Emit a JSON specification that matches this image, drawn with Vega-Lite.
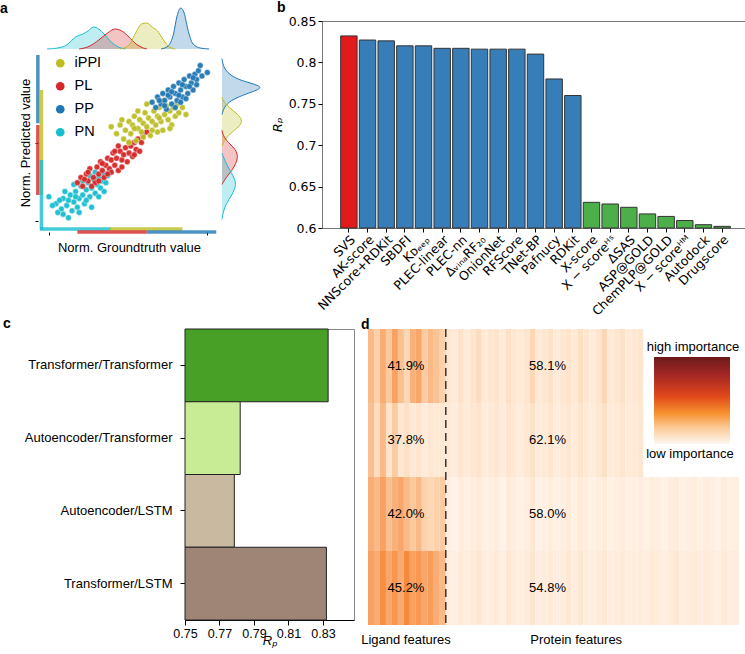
{
"$schema":"https://vega.github.io/schema/vega-lite/v6.json",
"padding":{"left":0,"top":0,"right":0,"bottom":0},
"columns":1,"align":"none",
"spacing":-3,
"resolve":{"scale":{"color":"independent"},"legend":{"color":"independent"}},
"config":{"view":{"stroke":null},"font":"Liberation Sans",
 "title":{"fontSize":14,"fontWeight":"bold","anchor":"start","frame":"group","font":"Liberation Sans","color":"#000"},
 "axis":{"titleFont":"Liberation Sans","labelFont":"Liberation Sans","titleFontWeight":"normal","labelColor":"#000","titleColor":"#000","tickColor":"#000","domainColor":"#000","grid":false}},
"concat":[
{"hconcat":[
 {"width":178,"height":175,
  "title":{"text":"a","dx":-40,"offset":-10},
  "resolve":{"scale":{"x":"independent","y":"independent"}},
  "layer":[
     {"data":{"values":[
{"c":"PN","gt":0.05,"pr":0.19},{"c":"PN","gt":0.16,"pr":0.07},{"c":"PN","gt":0.09,"pr":0.15},{"c":"PN","gt":0.12,"pr":0.12},{"c":"PN","gt":0.13,"pr":0.18},{"c":"PN","gt":0.15,"pr":0.14},{"c":"PN","gt":0.17,"pr":0.2},{"c":"PN","gt":0.18,"pr":0.11},{"c":"PN","gt":0.19,"pr":0.16},{"c":"PN","gt":0.2,"pr":0.22},{"c":"PN","gt":0.21,"pr":0.13},{"c":"PN","gt":0.22,"pr":0.18},{"c":"PN","gt":0.23,"pr":0.25},{"c":"PN","gt":0.24,"pr":0.2},{"c":"PN","gt":0.25,"pr":0.15},{"c":"PN","gt":0.26,"pr":0.23},{"c":"PN","gt":0.27,"pr":0.27},{"c":"PN","gt":0.28,"pr":0.19},{"c":"PN","gt":0.29,"pr":0.24},{"c":"PN","gt":0.3,"pr":0.29},{"c":"PN","gt":0.31,"pr":0.21},{"c":"PN","gt":0.32,"pr":0.26},{"c":"PN","gt":0.33,"pr":0.3},{"c":"PN","gt":0.34,"pr":0.24},{"c":"PN","gt":0.35,"pr":0.28},{"c":"PN","gt":0.36,"pr":0.32},{"c":"PN","gt":0.37,"pr":0.27},{"c":"PN","gt":0.38,"pr":0.31},{"c":"PN","gt":0.4,"pr":0.33},{"c":"PN","gt":0.14,"pr":0.22},{"c":"PN","gt":0.19,"pr":0.26},{"c":"PN","gt":0.11,"pr":0.17},{"c":"PN","gt":0.1,"pr":0.1},{"c":"PN","gt":0.22,"pr":0.1},{"c":"PN","gt":0.26,"pr":0.17},{"c":"PN","gt":0.29,"pr":0.13},{"c":"PN","gt":0.33,"pr":0.19},{"c":"PN","gt":0.2,"pr":0.19},{"c":"PN","gt":0.16,"pr":0.17},{"c":"PN","gt":0.24,"pr":0.28},{"c":"PN","gt":0.07,"pr":0.14},{"c":"PN","gt":0.13,"pr":0.09},{"c":"PN","gt":0.28,"pr":0.31},{"c":"PN","gt":0.36,"pr":0.22},{"c":"PN","gt":0.31,"pr":0.33},
{"c":"PL","gt":0.21,"pr":0.27},{"c":"PL","gt":0.23,"pr":0.3},{"c":"PL","gt":0.24,"pr":0.25},{"c":"PL","gt":0.26,"pr":0.32},{"c":"PL","gt":0.27,"pr":0.28},{"c":"PL","gt":0.28,"pr":0.35},{"c":"PL","gt":0.3,"pr":0.3},{"c":"PL","gt":0.31,"pr":0.27},{"c":"PL","gt":0.32,"pr":0.36},{"c":"PL","gt":0.33,"pr":0.32},{"c":"PL","gt":0.34,"pr":0.39},{"c":"PL","gt":0.35,"pr":0.34},{"c":"PL","gt":0.36,"pr":0.3},{"c":"PL","gt":0.37,"pr":0.37},{"c":"PL","gt":0.38,"pr":0.41},{"c":"PL","gt":0.39,"pr":0.35},{"c":"PL","gt":0.4,"pr":0.4},{"c":"PL","gt":0.41,"pr":0.44},{"c":"PL","gt":0.42,"pr":0.37},{"c":"PL","gt":0.43,"pr":0.41},{"c":"PL","gt":0.44,"pr":0.34},{"c":"PL","gt":0.45,"pr":0.45},{"c":"PL","gt":0.46,"pr":0.4},{"c":"PL","gt":0.47,"pr":0.43},{"c":"PL","gt":0.48,"pr":0.47},{"c":"PL","gt":0.49,"pr":0.39},{"c":"PL","gt":0.5,"pr":0.44},{"c":"PL","gt":0.51,"pr":0.48},{"c":"PL","gt":0.52,"pr":0.42},{"c":"PL","gt":0.53,"pr":0.5},{"c":"PL","gt":0.54,"pr":0.46},{"c":"PL","gt":0.55,"pr":0.52},{"c":"PL","gt":0.56,"pr":0.45},{"c":"PL","gt":0.57,"pr":0.5},{"c":"PL","gt":0.58,"pr":0.54},{"c":"PL","gt":0.6,"pr":0.56},{"c":"PL","gt":0.29,"pr":0.25},{"c":"PL","gt":0.35,"pr":0.38},{"c":"PL","gt":0.4,"pr":0.33},{"c":"PL","gt":0.44,"pr":0.48},{"c":"PL","gt":0.38,"pr":0.32},{"c":"PL","gt":0.5,"pr":0.5},{"c":"PL","gt":0.46,"pr":0.36},{"c":"PL","gt":0.33,"pr":0.28},{"c":"PL","gt":0.25,"pr":0.29},{"c":"PL","gt":0.42,"pr":0.45},{"c":"PL","gt":0.53,"pr":0.43},{"c":"PL","gt":0.27,"pr":0.33},
{"c":"iPPI","gt":0.4,"pr":0.59},{"c":"iPPI","gt":0.43,"pr":0.55},{"c":"iPPI","gt":0.45,"pr":0.6},{"c":"iPPI","gt":0.47,"pr":0.52},{"c":"iPPI","gt":0.48,"pr":0.57},{"c":"iPPI","gt":0.5,"pr":0.62},{"c":"iPPI","gt":0.51,"pr":0.55},{"c":"iPPI","gt":0.52,"pr":0.6},{"c":"iPPI","gt":0.53,"pr":0.65},{"c":"iPPI","gt":0.54,"pr":0.51},{"c":"iPPI","gt":0.55,"pr":0.58},{"c":"iPPI","gt":0.56,"pr":0.63},{"c":"iPPI","gt":0.57,"pr":0.56},{"c":"iPPI","gt":0.58,"pr":0.61},{"c":"iPPI","gt":0.59,"pr":0.67},{"c":"iPPI","gt":0.6,"pr":0.59},{"c":"iPPI","gt":0.61,"pr":0.64},{"c":"iPPI","gt":0.62,"pr":0.54},{"c":"iPPI","gt":0.63,"pr":0.62},{"c":"iPPI","gt":0.64,"pr":0.68},{"c":"iPPI","gt":0.65,"pr":0.6},{"c":"iPPI","gt":0.66,"pr":0.65},{"c":"iPPI","gt":0.67,"pr":0.7},{"c":"iPPI","gt":0.68,"pr":0.62},{"c":"iPPI","gt":0.69,"pr":0.57},{"c":"iPPI","gt":0.7,"pr":0.66},{"c":"iPPI","gt":0.71,"pr":0.71},{"c":"iPPI","gt":0.72,"pr":0.63},{"c":"iPPI","gt":0.73,"pr":0.68},{"c":"iPPI","gt":0.74,"pr":0.6},{"c":"iPPI","gt":0.75,"pr":0.7},{"c":"iPPI","gt":0.76,"pr":0.65},{"c":"iPPI","gt":0.77,"pr":0.72},{"c":"iPPI","gt":0.78,"pr":0.67},{"c":"iPPI","gt":0.8,"pr":0.7},{"c":"iPPI","gt":0.82,"pr":0.66},{"c":"iPPI","gt":0.5,"pr":0.5},{"c":"iPPI","gt":0.55,"pr":0.68},{"c":"iPPI","gt":0.6,"pr":0.72},{"c":"iPPI","gt":0.66,"pr":0.56},{"c":"iPPI","gt":0.63,"pr":0.57},{"c":"iPPI","gt":0.58,"pr":0.53},{"c":"iPPI","gt":0.7,"pr":0.74},{"c":"iPPI","gt":0.46,"pr":0.63},{"c":"iPPI","gt":0.53,"pr":0.58},{"c":"iPPI","gt":0.67,"pr":0.64},{"c":"iPPI","gt":0.73,"pr":0.58},
{"c":"PP","gt":0.63,"pr":0.73},{"c":"PP","gt":0.65,"pr":0.7},{"c":"PP","gt":0.66,"pr":0.76},{"c":"PP","gt":0.68,"pr":0.72},{"c":"PP","gt":0.69,"pr":0.78},{"c":"PP","gt":0.7,"pr":0.74},{"c":"PP","gt":0.71,"pr":0.69},{"c":"PP","gt":0.72,"pr":0.8},{"c":"PP","gt":0.73,"pr":0.76},{"c":"PP","gt":0.74,"pr":0.72},{"c":"PP","gt":0.75,"pr":0.82},{"c":"PP","gt":0.76,"pr":0.78},{"c":"PP","gt":0.77,"pr":0.74},{"c":"PP","gt":0.78,"pr":0.84},{"c":"PP","gt":0.79,"pr":0.8},{"c":"PP","gt":0.8,"pr":0.76},{"c":"PP","gt":0.81,"pr":0.86},{"c":"PP","gt":0.82,"pr":0.82},{"c":"PP","gt":0.83,"pr":0.78},{"c":"PP","gt":0.84,"pr":0.88},{"c":"PP","gt":0.85,"pr":0.84},{"c":"PP","gt":0.86,"pr":0.8},{"c":"PP","gt":0.87,"pr":0.89},{"c":"PP","gt":0.88,"pr":0.86},{"c":"PP","gt":0.89,"pr":0.91},{"c":"PP","gt":0.9,"pr":0.94},{"c":"PP","gt":0.91,"pr":0.88},{"c":"PP","gt":0.94,"pr":0.9},{"c":"PP","gt":0.76,"pr":0.7},{"c":"PP","gt":0.8,"pr":0.83},{"c":"PP","gt":0.72,"pr":0.77},{"c":"PP","gt":0.67,"pr":0.74},{"c":"PP","gt":0.78,"pr":0.77},{"c":"PP","gt":0.84,"pr":0.82},{"c":"PP","gt":0.86,"pr":0.87},{"c":"PP","gt":0.82,"pr":0.75},{"c":"PP","gt":0.74,"pr":0.79},{"c":"PP","gt":0.88,"pr":0.83},{"c":"PP","gt":0.7,"pr":0.71},{"c":"PP","gt":0.79,"pr":0.73}
     ]},
      "mark":{"type":"point","filled":true,"size":34,"opacity":0.95,"stroke":"#ffffff","strokeWidth":0.4},
      "encoding":{
       "x":{"field":"gt","type":"quantitative","scale":{"domain":[0,1],"nice":false,"zero":false},
            "axis":{"orient":"bottom","title":"Norm. Groundtruth value","labels":false,"domain":false,"values":[0.05,0.94],"tickSize":3,"titleFontSize":13,"titlePadding":6,"offset":2}},
       "y":{"field":"pr","type":"quantitative","scale":{"domain":[0,1],"nice":false,"zero":false},
            "axis":{"orient":"left","title":"Norm. Predicted value","labels":false,"domain":false,"values":[0.05,0.5],"tickSize":3,"titleFontSize":13,"titlePadding":2,"offset":2}},
       "color":{"field":"c","type":"nominal","scale":{"domain":["iPPI","PL","PP","PN"],"range":["#bcbd22","#d62728","#1f77b4","#17becf"]},
            "legend":{"title":null,"orient":"none","legendX":13,"legendY":1,"padding":0,"symbolType":"circle","symbolSize":75,"symbolStrokeWidth":0,"symbolOpacity":1,"labelFontSize":14.5,"labelFont":"Liberation Sans","labelOffset":7,"rowPadding":8}}}},
     {"data":{"values":[{"c":"PP","lo":0.61,"hi":1.0},{"c":"PL","lo":0.2,"hi":0.6}]},
      "mark":{"type":"rule","strokeWidth":3.5,"opacity":0.8},
      "encoding":{"x":{"datum":-0.012,"type":"quantitative","scale":{"domain":[0,1],"nice":false,"zero":false},"axis":null},"y":{"field":"lo","type":"quantitative","scale":{"domain":[0,1],"nice":false,"zero":false},"axis":null},"y2":{"field":"hi"},"color":{"field":"c","type":"nominal"}}},
     {"data":{"values":[{"c":"iPPI","lo":0.2,"hi":0.8},{"c":"PN","lo":0.0,"hi":0.4}]},
      "mark":{"type":"rule","strokeWidth":3.5,"opacity":0.8},
      "encoding":{"x":{"datum":0.008,"type":"quantitative","scale":{"domain":[0,1],"nice":false,"zero":false},"axis":null},"y":{"field":"lo","type":"quantitative","scale":{"domain":[0,1],"nice":false,"zero":false},"axis":null},"y2":{"field":"hi"},"color":{"field":"c","type":"nominal"}}},
     {"data":{"values":[{"c":"PN","lo":0.0,"hi":0.4},{"c":"iPPI","lo":0.39,"hi":0.8}]},
      "mark":{"type":"rule","strokeWidth":3.5,"opacity":0.8},
      "encoding":{"y":{"datum":0.006,"type":"quantitative","scale":{"domain":[0,1],"nice":false,"zero":false},"axis":null},"x":{"field":"lo","type":"quantitative","scale":{"domain":[0,1],"nice":false,"zero":false},"axis":null},"x2":{"field":"hi"},"color":{"field":"c","type":"nominal"}}},
     {"data":{"values":[{"c":"PL","lo":0.21,"hi":0.6},{"c":"PP","lo":0.6,"hi":0.99}]},
      "mark":{"type":"rule","strokeWidth":3.5,"opacity":0.8},
      "encoding":{"y":{"datum":-0.012,"type":"quantitative","scale":{"domain":[0,1],"nice":false,"zero":false},"axis":null},"x":{"field":"lo","type":"quantitative","scale":{"domain":[0,1],"nice":false,"zero":false},"axis":null},"x2":{"field":"hi"},"color":{"field":"c","type":"nominal"}}},
   {"data":{"values":[
{"c":"PN","x":0.04,"h":0},{"c":"PN","x":0.1,"h":1},{"c":"PN","x":0.15,"h":4},{"c":"PN","x":0.2,"h":12},{"c":"PN","x":0.24,"h":15},{"c":"PN","x":0.27,"h":18},{"c":"PN","x":0.3,"h":22},{"c":"PN","x":0.33,"h":20},{"c":"PN","x":0.36,"h":15},{"c":"PN","x":0.4,"h":7},{"c":"PN","x":0.44,"h":2},{"c":"PN","x":0.48,"h":0},
{"c":"PL","x":0.22,"h":0},{"c":"PL","x":0.28,"h":3},{"c":"PL","x":0.33,"h":9},{"c":"PL","x":0.38,"h":16},{"c":"PL","x":0.42,"h":20},{"c":"PL","x":0.46,"h":18},{"c":"PL","x":0.5,"h":12},{"c":"PL","x":0.54,"h":5},{"c":"PL","x":0.58,"h":1},{"c":"PL","x":0.6,"h":0},
{"c":"iPPI","x":0.45,"h":0},{"c":"iPPI","x":0.5,"h":4},{"c":"iPPI","x":0.54,"h":17},{"c":"iPPI","x":0.57,"h":25},{"c":"iPPI","x":0.6,"h":26},{"c":"iPPI","x":0.63,"h":22},{"c":"iPPI","x":0.66,"h":18},{"c":"iPPI","x":0.69,"h":10},{"c":"iPPI","x":0.72,"h":3},{"c":"iPPI","x":0.76,"h":0},
{"c":"PP","x":0.68,"h":0},{"c":"PP","x":0.72,"h":3},{"c":"PP","x":0.75,"h":15},{"c":"PP","x":0.77,"h":33},{"c":"PP","x":0.79,"h":41},{"c":"PP","x":0.81,"h":36},{"c":"PP","x":0.83,"h":20},{"c":"PP","x":0.86,"h":5},{"c":"PP","x":0.9,"h":1},{"c":"PP","x":0.95,"h":0}
   ]},
    "mark":{"type":"area","fillOpacity":0.28,"line":{"strokeWidth":1},"interpolate":"monotone"},
    "encoding":{"x":{"field":"x","type":"quantitative","scale":{"domain":[0,1],"nice":false,"zero":false},"axis":null},
      "y":{"field":"h","type":"quantitative","stack":null,"scale":{"domain":[0,41],"range":[-6,-47],"nice":false},"axis":null},
      "color":{"field":"c","type":"nominal"}}},
   {"data":{"name":"rd"},
    "mark":{"type":"area","orient":"horizontal","fillOpacity":0.28,"interpolate":"basis"},
    "encoding":{"y":{"field":"y","type":"quantitative","scale":{"domain":[0,1],"nice":false,"zero":false},"axis":null},
      "x":{"field":"h","type":"quantitative","stack":null,"scale":{"domain":[0,41],"range":[182,223],"nice":false},"axis":null},
      "color":{"field":"c","type":"nominal"}}},
   {"data":{"name":"rd"},
    "mark":{"type":"line","strokeWidth":1,"interpolate":"basis"},
    "encoding":{"y":{"field":"y","type":"quantitative","scale":{"domain":[0,1],"nice":false,"zero":false},"axis":null},
      "x":{"field":"h","type":"quantitative","scale":{"domain":[0,41],"range":[182,223],"nice":false},"axis":null},
      "order":{"field":"y","type":"quantitative"},
      "color":{"field":"c","type":"nominal"}}}
  ]},
 {"concat":[
  {"width":1,"height":1,"data":{"values":[]},"mark":"point"},
  {"width":427,"height":207,
  "title":{"text":"b","dx":-45,"offset":0},
  "view":{"stroke":"#777"},
  "data":{"values":[
{"m":"SVS","rp":0.832,"g":"SVS"},{"m":"AK-score","rp":0.827,"g":"ML"},{"m":"NNScore+RDKit","rp":0.826,"g":"ML"},{"m":"SBDFI","rp":0.82,"g":"ML"},{"m":"Kᴅₑₑₚ","rp":0.82,"g":"ML"},{"m":"PLEC-linear","rp":0.817,"g":"ML"},{"m":"PLEC-nn","rp":0.817,"g":"ML"},{"m":"ΔᵥᵢₙₐRF₂₀","rp":0.816,"g":"ML"},{"m":"OnionNet","rp":0.816,"g":"ML"},{"m":"RFScore","rp":0.816,"g":"ML"},{"m":"TNet-BP","rp":0.81,"g":"ML"},{"m":"Pafnucy","rp":0.78,"g":"ML"},{"m":"RDKit","rp":0.76,"g":"ML"},{"m":"X-score","rp":0.631,"g":"Classic"},{"m":"X − scoreᴴˢ","rp":0.629,"g":"Classic"},{"m":"ΔSAS","rp":0.625,"g":"Classic"},{"m":"ASP@GOLD","rp":0.617,"g":"Classic"},{"m":"ChemPLP@GOLD","rp":0.614,"g":"Classic"},{"m":"X − scoreᴴᴹ","rp":0.609,"g":"Classic"},{"m":"Autodock","rp":0.604,"g":"Classic"},{"m":"Drugscore","rp":0.602,"g":"Classic"}
  ]},
  "mark":{"type":"bar","stroke":"#333","strokeWidth":1},
  "encoding":{
   "x":{"field":"m","type":"nominal","sort":null,"scale":{"paddingInner":0.12,"paddingOuter":1.11},
        "axis":{"title":null,"labelAngle":-45,"labelAlign":"right","labelBaseline":"top","labelFont":"DejaVu Sans","labelFontSize":12.5,"tickSize":4,"labelPadding":1,"domain":false,"labelOverlap":false}},
   "y":{"field":"rp","type":"quantitative","scale":{"domain":[0.6,0.85],"nice":false,"zero":false},
        "axis":{"values":[0.6,0.65,0.7,0.75,0.8,0.85],"format":"~g","title":"Rₚ","titleFontStyle":"italic","titleFont":"DejaVu Sans","titleFontSize":13,"labelFont":"DejaVu Sans","labelFontSize":12.5,"domain":false,"tickSize":4,"titlePadding":4}},
   "y2":{"datum":0.6},
   "color":{"field":"g","type":"nominal","scale":{"domain":["SVS","ML","Classic"],"range":["#e31a1c","#377eb8","#4daf4a"]},"legend":null}}}
 ],"columns":1,"align":"none","spacing":-56}
],"spacing":8,"resolve":{"scale":{"color":"independent"},"legend":{"color":"independent"}}},
{"hconcat":[
 {"width":1,"height":1,"data":{"values":[]},"mark":"point"},
 {"hconcat":[
 {"width":169,"height":291,
  "title":{"text":"c","dx":-182,"offset":-2},
  "view":{"stroke":"#888"},
  "data":{"values":[
   {"a":"Transformer/Transformer","rp":0.833},{"a":"Autoencoder/Transformer","rp":0.782},{"a":"Autoencoder/LSTM","rp":0.7786},{"a":"Transformer/LSTM","rp":0.832}]},
  "mark":{"type":"bar","stroke":"#222","strokeWidth":1},
  "encoding":{
   "y":{"field":"a","type":"nominal","sort":null,"scale":{"paddingInner":0,"paddingOuter":0},
        "axis":{"title":null,"labelFontSize":13,"tickSize":5,"labelPadding":8}},
   "x":{"field":"rp","type":"quantitative","scale":{"domain":[0.75,0.848],"nice":false,"zero":false},
        "axis":{"values":[0.75,0.77,0.79,0.81,0.83],"format":".2f","labelOverlap":false,"labelFlush":false,"title":"Rₚ","titleFontStyle":"italic","titleFontSize":13,"titlePadding":-5,"labelFontSize":12.5,"tickSize":5}},
   "x2":{"datum":0.75},
   "color":{"field":"a","type":"nominal","scale":{"domain":["Transformer/Transformer","Autoencoder/Transformer","Autoencoder/LSTM","Transformer/LSTM"],"range":["#48a027","#c8ec96","#c9b9a0","#9e8576"]},"legend":null}}},
 {"width":371,"height":296,
  "title":{"text":"d","dx":-7,"offset":-4},
  "resolve":{"scale":{"x":"independent","y":"independent"}},
  "layer":[
   {"data":{"values":[
{"r":0,"i":0,"v":0.3},{"r":0,"i":1,"v":0.22},{"r":0,"i":2,"v":0.35},{"r":0,"i":3,"v":0.25},{"r":0,"i":4,"v":0.4},{"r":0,"i":5,"v":0.28},{"r":0,"i":6,"v":0.2},{"r":0,"i":7,"v":0.33},{"r":0,"i":8,"v":0.38},{"r":0,"i":9,"v":0.24},{"r":0,"i":10,"v":0.3},{"r":0,"i":11,"v":0.27},{"r":0,"i":12,"v":0.22},
{"r":0,"i":13,"v":0.12},{"r":0,"i":14,"v":0.1},{"r":0,"i":15,"v":0.15},{"r":0,"i":16,"v":0.09},{"r":0,"i":17,"v":0.13},{"r":0,"i":18,"v":0.18},{"r":0,"i":19,"v":0.1},{"r":0,"i":20,"v":0.12},{"r":0,"i":21,"v":0.14},{"r":0,"i":22,"v":0.09},{"r":0,"i":23,"v":0.16},{"r":0,"i":24,"v":0.11},{"r":0,"i":25,"v":0.1},{"r":0,"i":26,"v":0.13},{"r":0,"i":27,"v":0.2},{"r":0,"i":28,"v":0.1},{"r":0,"i":29,"v":0.12},{"r":0,"i":30,"v":0.15},{"r":0,"i":31,"v":0.09},{"r":0,"i":32,"v":0.11},{"r":0,"i":33,"v":0.14},{"r":0,"i":34,"v":0.1},{"r":0,"i":35,"v":0.17},{"r":0,"i":36,"v":0.12},{"r":0,"i":37,"v":0.09},{"r":0,"i":38,"v":0.13},{"r":0,"i":39,"v":0.2},{"r":0,"i":40,"v":0.1},{"r":0,"i":41,"v":0.12},{"r":0,"i":42,"v":0.15},{"r":0,"i":43,"v":0.1},{"r":0,"i":44,"v":0.11},{"r":0,"i":45,"v":0.13},
{"r":1,"i":0,"v":0.28},{"r":1,"i":1,"v":0.18},{"r":1,"i":2,"v":0.3},{"r":1,"i":3,"v":0.14},{"r":1,"i":4,"v":0.24},{"r":1,"i":5,"v":0.12},{"r":1,"i":6,"v":0.16},{"r":1,"i":7,"v":0.1},{"r":1,"i":8,"v":0.13},{"r":1,"i":9,"v":0.09},{"r":1,"i":10,"v":0.12},{"r":1,"i":11,"v":0.1},{"r":1,"i":12,"v":0.11},
{"r":1,"i":13,"v":0.1},{"r":1,"i":14,"v":0.08},{"r":1,"i":15,"v":0.12},{"r":1,"i":16,"v":0.09},{"r":1,"i":17,"v":0.11},{"r":1,"i":18,"v":0.14},{"r":1,"i":19,"v":0.08},{"r":1,"i":20,"v":0.1},{"r":1,"i":21,"v":0.12},{"r":1,"i":22,"v":0.09},{"r":1,"i":23,"v":0.13},{"r":1,"i":24,"v":0.1},{"r":1,"i":25,"v":0.08},{"r":1,"i":26,"v":0.11},{"r":1,"i":27,"v":0.15},{"r":1,"i":28,"v":0.09},{"r":1,"i":29,"v":0.1},{"r":1,"i":30,"v":0.13},{"r":1,"i":31,"v":0.08},{"r":1,"i":32,"v":0.1},{"r":1,"i":33,"v":0.12},{"r":1,"i":34,"v":0.09},{"r":1,"i":35,"v":0.14},{"r":1,"i":36,"v":0.1},{"r":1,"i":37,"v":0.08},{"r":1,"i":38,"v":0.11},{"r":1,"i":39,"v":0.16},{"r":1,"i":40,"v":0.09},{"r":1,"i":41,"v":0.1},{"r":1,"i":42,"v":0.13},{"r":1,"i":43,"v":0.09},{"r":1,"i":44,"v":0.1},{"r":1,"i":45,"v":0.12},
{"r":2,"i":0,"v":0.35},{"r":2,"i":1,"v":0.3},{"r":2,"i":2,"v":0.4},{"r":2,"i":3,"v":0.28},{"r":2,"i":4,"v":0.33},{"r":2,"i":5,"v":0.38},{"r":2,"i":6,"v":0.3},{"r":2,"i":7,"v":0.25},{"r":2,"i":8,"v":0.3},{"r":2,"i":9,"v":0.22},{"r":2,"i":10,"v":0.2},{"r":2,"i":11,"v":0.22},{"r":2,"i":12,"v":0.24},
{"r":2,"i":13,"v":0.06},{"r":2,"i":14,"v":0.04},{"r":2,"i":15,"v":0.08},{"r":2,"i":16,"v":0.05},{"r":2,"i":17,"v":0.07},{"r":2,"i":18,"v":0.1},{"r":2,"i":19,"v":0.05},{"r":2,"i":20,"v":0.06},{"r":2,"i":21,"v":0.08},{"r":2,"i":22,"v":0.04},{"r":2,"i":23,"v":0.09},{"r":2,"i":24,"v":0.06},{"r":2,"i":25,"v":0.05},{"r":2,"i":26,"v":0.07},{"r":2,"i":27,"v":0.11},{"r":2,"i":28,"v":0.05},{"r":2,"i":29,"v":0.06},{"r":2,"i":30,"v":0.08},{"r":2,"i":31,"v":0.05},{"r":2,"i":32,"v":0.06},{"r":2,"i":33,"v":0.09},{"r":2,"i":34,"v":0.05},{"r":2,"i":35,"v":0.1},{"r":2,"i":36,"v":0.06},{"r":2,"i":37,"v":0.05},{"r":2,"i":38,"v":0.07},{"r":2,"i":39,"v":0.09},{"r":2,"i":40,"v":0.05},{"r":2,"i":41,"v":0.06},{"r":2,"i":42,"v":0.08},{"r":2,"i":43,"v":0.05},{"r":2,"i":44,"v":0.06},{"r":2,"i":45,"v":0.07},{"r":2,"i":46,"v":0.05},{"r":2,"i":47,"v":0.08},{"r":2,"i":48,"v":0.06},{"r":2,"i":49,"v":0.04},{"r":2,"i":50,"v":0.07},{"r":2,"i":51,"v":0.09},{"r":2,"i":52,"v":0.05},{"r":2,"i":53,"v":0.06},{"r":2,"i":54,"v":0.08},{"r":2,"i":55,"v":0.05},{"r":2,"i":56,"v":0.07},{"r":2,"i":57,"v":0.06},{"r":2,"i":58,"v":0.04},{"r":2,"i":59,"v":0.08},{"r":2,"i":60,"v":0.05},{"r":2,"i":61,"v":0.06},
{"r":3,"i":0,"v":0.4},{"r":3,"i":1,"v":0.35},{"r":3,"i":2,"v":0.48},{"r":3,"i":3,"v":0.38},{"r":3,"i":4,"v":0.45},{"r":3,"i":5,"v":0.36},{"r":3,"i":6,"v":0.5},{"r":3,"i":7,"v":0.4},{"r":3,"i":8,"v":0.44},{"r":3,"i":9,"v":0.38},{"r":3,"i":10,"v":0.42},{"r":3,"i":11,"v":0.35},{"r":3,"i":12,"v":0.3},
{"r":3,"i":13,"v":0.08},{"r":3,"i":14,"v":0.06},{"r":3,"i":15,"v":0.1},{"r":3,"i":16,"v":0.07},{"r":3,"i":17,"v":0.09},{"r":3,"i":18,"v":0.12},{"r":3,"i":19,"v":0.07},{"r":3,"i":20,"v":0.08},{"r":3,"i":21,"v":0.1},{"r":3,"i":22,"v":0.06},{"r":3,"i":23,"v":0.11},{"r":3,"i":24,"v":0.08},{"r":3,"i":25,"v":0.07},{"r":3,"i":26,"v":0.09},{"r":3,"i":27,"v":0.13},{"r":3,"i":28,"v":0.07},{"r":3,"i":29,"v":0.08},{"r":3,"i":30,"v":0.1},{"r":3,"i":31,"v":0.07},{"r":3,"i":32,"v":0.08},{"r":3,"i":33,"v":0.11},{"r":3,"i":34,"v":0.07},{"r":3,"i":35,"v":0.12},{"r":3,"i":36,"v":0.08},{"r":3,"i":37,"v":0.07},{"r":3,"i":38,"v":0.09},{"r":3,"i":39,"v":0.11},{"r":3,"i":40,"v":0.07},{"r":3,"i":41,"v":0.08},{"r":3,"i":42,"v":0.1},{"r":3,"i":43,"v":0.07},{"r":3,"i":44,"v":0.08},{"r":3,"i":45,"v":0.09},{"r":3,"i":46,"v":0.07},{"r":3,"i":47,"v":0.1},{"r":3,"i":48,"v":0.08},{"r":3,"i":49,"v":0.06},{"r":3,"i":50,"v":0.09},{"r":3,"i":51,"v":0.11},{"r":3,"i":52,"v":0.07},{"r":3,"i":53,"v":0.08},{"r":3,"i":54,"v":0.1},{"r":3,"i":55,"v":0.07},{"r":3,"i":56,"v":0.09},{"r":3,"i":57,"v":0.08},{"r":3,"i":58,"v":0.06},{"r":3,"i":59,"v":0.1},{"r":3,"i":60,"v":0.07},{"r":3,"i":61,"v":0.08}
   ]},
    "mark":{"type":"rect"},
    "encoding":{"x":{"field":"i","type":"ordinal","scale":{"paddingInner":0,"paddingOuter":0},"axis":null},
      "y":{"field":"r","type":"ordinal","scale":{"paddingInner":0,"paddingOuter":0},"axis":null},
      "color":{"field":"v","type":"quantitative","scale":{"domain":[0,0.167,0.333,0.5,0.667,0.833,1],"range":["#fff8f2","#fde0c5","#f9b07a","#f58a3c","#e0481a","#a82824","#6b1a1a"]},"legend":null}}},
   {"layer":[
     {"data":{"values":[{"x":13,"y0":0,"y1":4}]},
      "mark":{"type":"rule","strokeDash":[8,5],"strokeWidth":1.5,"color":"#333"},
      "encoding":{"x":{"field":"x","type":"quantitative","scale":{"domain":[0,62],"nice":false,"zero":false},"axis":null},
        "y":{"field":"y0","type":"quantitative","scale":{"domain":[0,4],"reverse":true,"nice":false,"zero":false},"axis":null},"y2":{"field":"y1"}}},
     {"data":{"values":[{"x0":47.8,"x1":60.5,"y0":0.378,"y1":1.554}]},
      "mark":{"type":"rect","fill":{"gradient":"linear","x1":0,"y1":1,"x2":0,"y2":0,"stops":[{"offset":0,"color":"#fff8f2"},{"offset":0.2,"color":"#fbc690"},{"offset":0.35,"color":"#f7922f"},{"offset":0.55,"color":"#e0481a"},{"offset":0.78,"color":"#a82824"},{"offset":1,"color":"#6b1a1a"}]}},
      "encoding":{"x":{"field":"x0","type":"quantitative","axis":null},"x2":{"field":"x1"},"y":{"field":"y0","type":"quantitative","axis":null},"y2":{"field":"y1"}}},
     {"data":{"values":[
       {"x":6.35,"y":0.5,"t":"41.9%"},{"x":30,"y":0.5,"t":"58.1%"},{"x":6.35,"y":1.5,"t":"37.8%"},{"x":30,"y":1.5,"t":"62.1%"},{"x":6.35,"y":2.5,"t":"42.0%"},{"x":30,"y":2.5,"t":"58.0%"},{"x":6.35,"y":3.5,"t":"45.2%"},{"x":30,"y":3.5,"t":"54.8%"},
       {"x":6.35,"y":4.2,"t":"Ligand features"},{"x":34.8,"y":4.2,"t":"Protein features"},{"x":54.3,"y":0.24,"t":"high importance"},{"x":53.8,"y":1.69,"t":"low importance"}]},
      "mark":{"type":"text","fontSize":13,"font":"Liberation Sans","color":"#000"},
      "encoding":{"x":{"field":"x","type":"quantitative","axis":null},"y":{"field":"y","type":"quantitative","axis":null},"text":{"field":"t"}}}
   ]}
  ]}
 ],"spacing":6,"resolve":{"scale":{"color":"independent"},"legend":{"color":"independent"}}}
],"spacing":-39,"resolve":{"scale":{"color":"independent"},"legend":{"color":"independent"}}}
],
"datasets":{"rd":[
{"c":"PP","y":0.66,"h":0},{"c":"PP","y":0.7,"h":2},{"c":"PP","y":0.74,"h":8},{"c":"PP","y":0.78,"h":25},{"c":"PP","y":0.81,"h":41},{"c":"PP","y":0.83,"h":35},{"c":"PP","y":0.86,"h":15},{"c":"PP","y":0.9,"h":5},{"c":"PP","y":0.94,"h":1},{"c":"PP","y":0.98,"h":0},
{"c":"iPPI","y":0.48,"h":0},{"c":"iPPI","y":0.52,"h":3},{"c":"iPPI","y":0.56,"h":10},{"c":"iPPI","y":0.6,"h":19},{"c":"iPPI","y":0.63,"h":20},{"c":"iPPI","y":0.66,"h":16},{"c":"iPPI","y":0.7,"h":7},{"c":"iPPI","y":0.73,"h":2},{"c":"iPPI","y":0.76,"h":0},
{"c":"PL","y":0.26,"h":0},{"c":"PL","y":0.3,"h":4},{"c":"PL","y":0.34,"h":10},{"c":"PL","y":0.38,"h":14},{"c":"PL","y":0.42,"h":16},{"c":"PL","y":0.46,"h":14},{"c":"PL","y":0.5,"h":6},{"c":"PL","y":0.54,"h":1},{"c":"PL","y":0.57,"h":0},
{"c":"PN","y":0.06,"h":0},{"c":"PN","y":0.1,"h":1},{"c":"PN","y":0.15,"h":4},{"c":"PN","y":0.2,"h":10},{"c":"PN","y":0.25,"h":14},{"c":"PN","y":0.29,"h":13},{"c":"PN","y":0.33,"h":9},{"c":"PN","y":0.37,"h":5},{"c":"PN","y":0.41,"h":2},{"c":"PN","y":0.44,"h":0}
]}
}
